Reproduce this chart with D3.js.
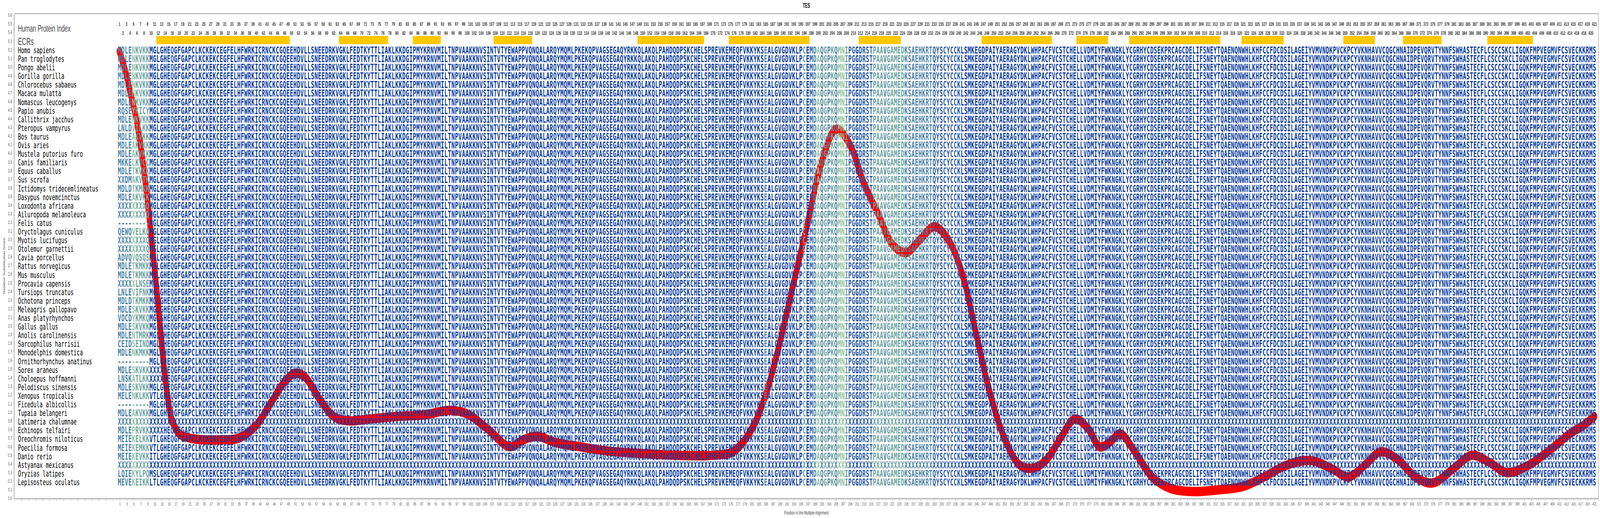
<!DOCTYPE html>
<html>
<head>
<meta charset="utf-8">
<script src="https://cdn.jsdelivr.net/npm/d3@7"></script>
<style>
  html, body { margin: 0; background: #fff; overflow: hidden; }
  svg { display: block; }
</style>
</head>
<body>
<script>
// human TES sequence (the index row)
const humanSeq = "MDLENKVKKMGLGHEQGFGAPCLKCKEKCEGFELHFWRKICRNCKCGQEEHDVLLSNEEDRKVGKLFEDTKYTTLIAKLKKDGIPMYKRNVMILTNPVAAKKNVSINTVTYEWAPPVQNQALARQYMQMLPKEKQPVAGSEGAQYRKKQLAKQLPAHDQDPSKCHELSPREVKEMEQFVKKYKSEALGVGDVKLPCEMDAQGPKQMNIPGGDRSTPAAVGAMEDKSAEHKRTQYSCYCCKLSMKEGDPAIYAERAGYDKLWHPACFVCSTCHELLVDMIYFWKNGKLYCGRHYCDSEKPRCAGCDELIFSNEYTQAENQNWHLKHFCCFDCDSILAGEIYVMVNDKPVCKPCYVKNHAVVCQGCHNAIDPEVQRVTYNNFSWHASTECFLCSCCSKCLIGQKFMPVEGMVFCSVECKKRMS";

const species = ["Homo sapiens","Pan troglodytes","Pongo abelii","Gorilla gorilla","Chlorocebus sabaeus","Macaca mulatta","Nomascus leucogenys","Papio anubis","Callithrix jacchus","Pteropus vampyrus","Bos taurus","Ovis aries","Mustela putorius furo","Canis familiaris","Equus caballus","Sus scrofa","Ictidomys tridecemlineatus","Dasypus novemcinctus","Loxodonta africana","Ailuropoda melanoleuca","Felis catus","Oryctolagus cuniculus","Myotis lucifugus","Otolemur garnettii","Cavia porcellus","Rattus norvegicus","Mus musculus","Procavia capensis","Tursiops truncatus","Ochotona princeps","Meleagris gallopavo","Anas platyrhynchos","Gallus gallus","Anolis carolinensis","Sarcophilus harrisii","Monodelphis domestica","Ornithorhynchus anatinus","Sorex araneus","Choloepus hoffmanni","Pelodiscus sinensis","Xenopus tropicalis","Ficedula albicollis","Tupaia belangeri","Latimeria chalumnae","Echinops telfairi","Oreochromis niloticus","Poecilia formosa","Danio rerio","Astyanax mexicanus","Oryzias latipes","Lepisosteus oculatus"];

// N-terminal residues that differ between species
const prefixes = ["MDLENKVKK","MDLENKVKK","MDLENKVKK","MDLENKVKK","MDLENKVKK","MDLENKVKK","MDLENKVKK","RQSEYKICY","MDLENKVKK","LNLDVILKK","MDLEAKVKK","MDLEAKVKK","MDLEAKVKK","MKKELKVCC","MDLETKVKK","XXDMAKVTK","MDLDTKMKK","MDLEAKVKK","XXXXXXXXQ","XXXXXXXXQ","---------","QEWQVELKQ","XXXXXXXXQ","XXXXXXXXQ","ADVQVQSQS","MDLETKMKK","MDLETKMKK","XXXXXLNSE","LNLEVIFNK","MDLDTKMKK","MDLESKVKK","VDCDYKMKQ","MDLESKVKK","MDLENTMRK","CEIDSEIND","MDLENKMKK","---------","MDLESKVKKXXXX","LNSKATLKKXXXX","MDLESKVKK","MELENKLKKVT","---------","MDLEAKVKK","XXXXXXXXXXXXX","MDLEPRVKKXXXX","MEIEKELKKVT","MEIEKEMKKVT","MEIEKEVKKIT","XXXXXXXXXXXXX","LQIEKYLPQMS","MEVEKEIKKLT"];

// rows that are unknown (X) over most of the alignment
const xRows = ["Latimeria chalumnae","Astyanax mexicanus"];

// conservation level per column range [start, end, level 0..4]
const colLevels = [[1,4,2],[5,5,4],[6,9,3],[16,16,1],[185,185,2],[196,196,3],[198,198,1],[199,199,2],[200,200,4],[201,201,2],[202,202,3],[203,203,2],[204,204,3],[205,205,2],[206,207,4],[208,208,3],[209,210,1],[212,215,1],[216,218,3],[219,219,2],[220,224,3],[225,232,2],[233,240,1]];

// ECR blocks (human protein index)
const ecrs = [[12,49],[64,77],[85,92],[108,118],[149,167],[175,197],[212,223],[247,266],[274,282],[289,314],[321,332],[350,358],[367,377],[391,403]];

// substitution score line
const scorePos = [1,2,3,4,5,6,7,8,9,10,11,12,13,14,15,16,18,21,25,30,35,40,44,48,51,54,58,62,66,72,80,88,95,100,106,112,116,120,125,132,140,150,160,170,176,181,185,189,193,197,201,205,209,213,217,221,225,229,233,237,241,245,249,253,257,261,265,269,273,277,280,283,286,290,295,300,307,314,321,327,333,340,346,351,356,360,365,370,375,381,386,391,396,402,408,414,418,421];
const scoreVal = [5.18,5.05,4.9,4.72,4.55,4.35,4.1,3.8,3.45,3.05,2.65,2.25,1.8,1.4,1.1,0.9,0.75,0.7,0.68,0.68,0.7,0.85,1.1,1.35,1.45,1.4,1.15,0.95,0.9,0.92,0.95,0.97,1.02,0.98,0.8,0.6,0.68,0.72,0.65,0.6,0.55,0.52,0.5,0.5,0.55,0.8,1.2,1.8,2.5,3.2,3.9,4.28,4.1,3.65,3.3,2.95,2.85,3.0,3.15,3.0,2.6,1.9,1.2,0.7,0.4,0.35,0.45,0.7,0.92,0.8,0.6,0.65,0.75,0.55,0.25,0.12,0.08,0.1,0.14,0.25,0.38,0.44,0.35,0.25,0.4,0.54,0.45,0.25,0.18,0.35,0.5,0.42,0.3,0.38,0.55,0.75,0.85,0.95];

const W = 6857, H = 1325;
const pLeft = 62, pRight = 6850, pTop = 35, pBottom = 1275;
const nCols = 421;

const x = d3.scaleLinear().domain([1, 421]).range([512, 512 + 420 * 15.05]);
const y = d3.scaleLinear().domain([0, 5.6]).range([pBottom, 39]);
const row = d3.scaleLinear().domain([0, 1]).range([128, 150.1]);
const levelColor = ["#0a3c9e", "#2a5ca6", "#4a82a6", "#6aa3a0", "#8fc49b"];

const level = new Array(nCols + 1).fill(0);
colLevels.forEach(([a, b, l]) => { for (let c = a; c <= b; c++) level[c] = l; });

// viewBox stretched to the window so the whole chart is always in view
const svg = d3.select("body").append("svg")
  .attr("viewBox", `0 0 ${W} ${H}`).attr("preserveAspectRatio", "none")
  .style("width", "100vw").style("height", "100vh")
  .style("font-family", "'Liberation Sans', Arial, sans-serif");

svg.append("rect").attr("x", pLeft).attr("y", pTop).attr("width", pRight - pLeft).attr("height", pBottom - pTop)
  .attr("fill", "none").attr("stroke", "#888").attr("stroke-width", 1.5);

svg.append("text").attr("x", (pLeft + pRight) / 2).attr("y", 20).attr("text-anchor", "middle")
  .attr("font-weight", "bold").attr("font-size", 16).text("TES");

// y axis
const yAxis = d3.axisLeft(y).tickValues(d3.range(0, 57).map(i => i / 10)).tickFormat(d3.format(".1f")).tickSize(4);
const yg = svg.append("g").attr("transform", `translate(${pLeft - 4},0)`).call(yAxis);
yg.selectAll("text").attr("fill", "#555").attr("font-size", 12);
yg.selectAll("line,path").attr("stroke", "#aaa");
svg.append("text").attr("transform", `translate(22,${(pTop + pBottom) / 2 + 25}) rotate(-90)`)
  .attr("text-anchor", "middle").attr("font-size", 12).attr("fill", "#444").text("Relative Substitution Score");

// bottom axis
const xb = d3.scaleLinear().domain([-29, 422.1]).range([pLeft, pRight]);
const bTicks = d3.range(-29, 422, 2);
const xAxis = d3.axisBottom(xb).tickValues(bTicks).tickFormat(d => d >= 1 ? d : "").tickSize(5);
const xg = svg.append("g").attr("transform", `translate(0,${pBottom + 2})`).call(xAxis);
xg.selectAll("text").attr("fill", "#555").attr("font-size", 11);
xg.selectAll("line,path").attr("stroke", "#aaa");
svg.append("text").attr("x", (pLeft + pRight) / 2).attr("y", 1316).attr("text-anchor", "middle")
  .attr("font-size", 13).attr("fill", "#444").text("Position in the Multiple Alignment");

// header labels
svg.append("text").attr("x", 77).attr("y", 81).attr("font-size", 24).attr("fill", "#444").text("Human Protein Index");
svg.append("text").attr("x", 77).attr("y", 115).attr("font-size", 26).attr("fill", "#444").text("ECRs");

const cols = d3.range(1, nCols + 1);
svg.append("g").selectAll("text").data(cols).join("text")
  .attr("x", d => x(d)).attr("y", d => d % 2 ? 66 : 89)
  .attr("text-anchor", "middle").attr("font-size", 13).attr("font-weight", "bold").attr("fill", "#333")
  .text(d => d);

svg.append("g").selectAll("rect").data(ecrs).join("rect")
  .attr("x", d => x(d[0]) - 7.5).attr("width", d => x(d[1]) - x(d[0]) + 15)
  .attr("y", 92).attr("height", 21).attr("fill", "#ffc800");

// score line, drawn under the alignment letters
const pts = scorePos.map((p, i) => [p, scoreVal[i]]);
svg.append("path").datum(pts)
  .attr("d", d3.line().x(d => x(d[0])).y(d => y(d[1])).curve(d3.curveCatmullRom))
  .attr("fill", "none").attr("stroke", "#ff0000").attr("stroke-width", 24)
  .attr("stroke-linecap", "round").attr("stroke-linejoin", "round");

// species names
svg.append("g").selectAll("text").data(species).join("text")
  .attr("x", 77).attr("y", (d, i) => row(i) + 8)
  .attr("font-family", "'DejaVu Sans Mono', monospace").attr("font-size", 22).attr("fill", "#000")
  .text(d => d);

// alignment
const cells = [];
species.forEach((sp, i) => {
  const pre = prefixes[i];
  const allX = xRows.includes(sp);
  for (let c = 1; c <= nCols; c++) {
    let ch = humanSeq[c - 1] || "-";
    if (c <= pre.length) ch = pre[c - 1];
    else if (allX) ch = "X";
    cells.push({ r: i, c, ch });
  }
});
svg.append("g").attr("font-family", "'DejaVu Sans Mono', monospace").attr("font-size", 24).attr("font-weight", "bold")
  .attr("text-anchor", "middle")
  .selectAll("text").data(cells).join("text")
  .attr("x", d => x(d.c)).attr("y", d => row(d.r) + 9)
  .attr("fill", d => levelColor[level[d.c]])
  .text(d => d.ch);
</script>
</body>
</html>
